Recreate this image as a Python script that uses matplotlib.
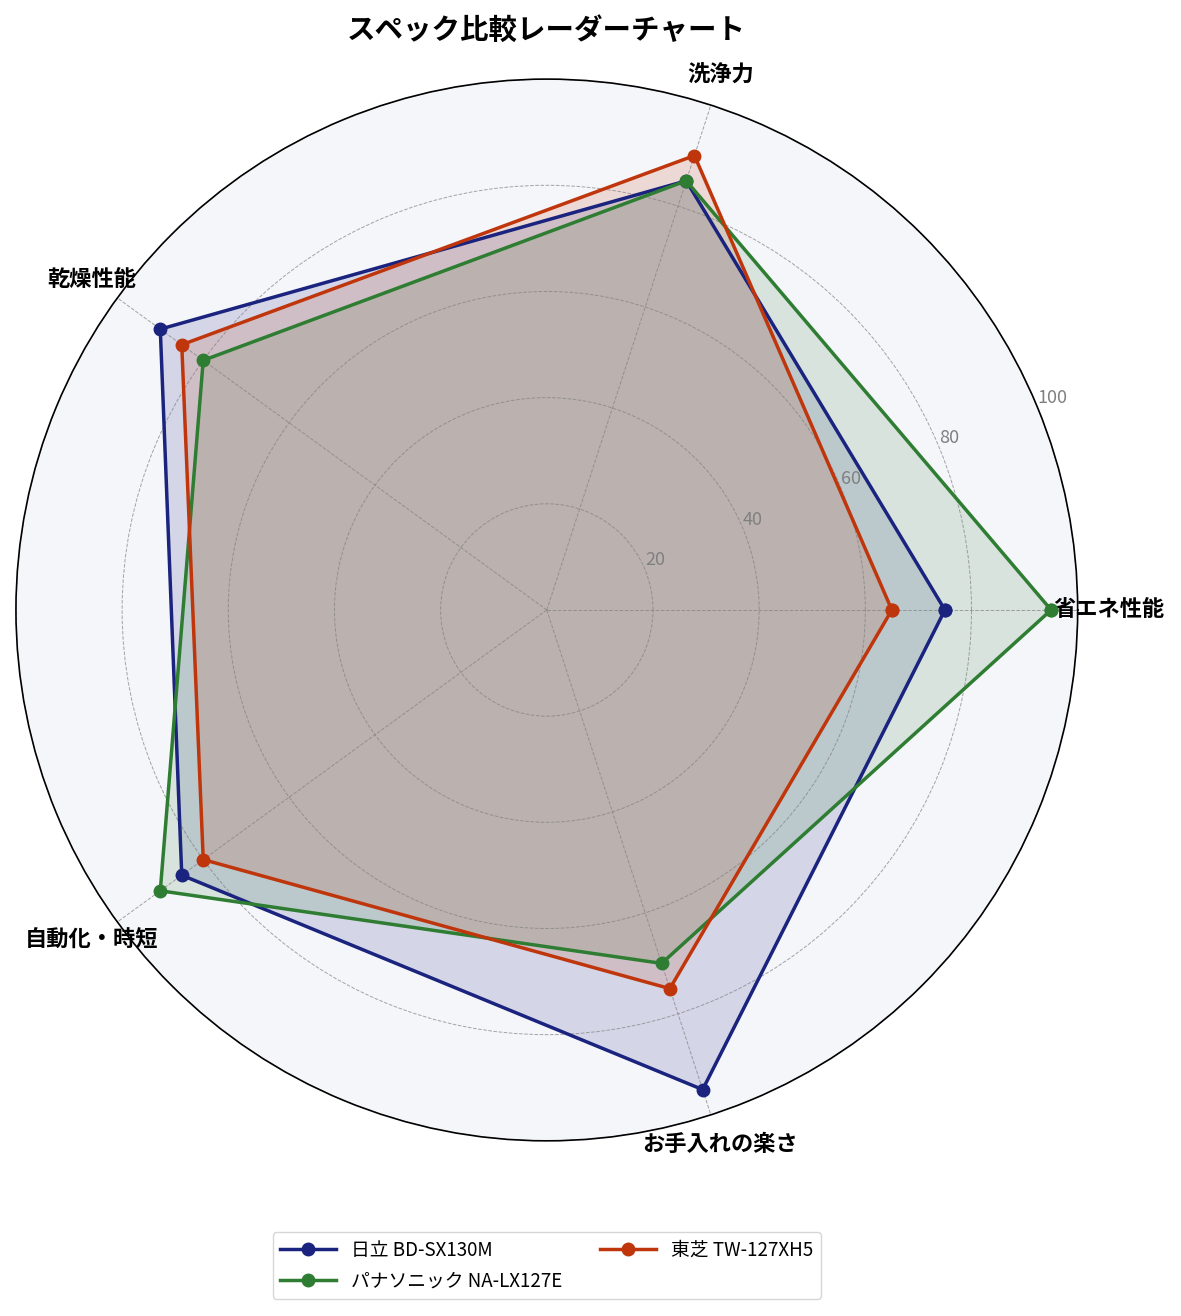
import matplotlib.pyplot as plt
import numpy as np

plt.rcParams['font.family'] = ['Noto Sans CJK JP', 'DejaVu Sans']

# データ
categories = ['省エネ性能', '洗浄力', '乾燥性能', '自動化・時短', 'お手入れの楽さ']
hitachi = [75, 85, 90, 85, 95]
panasonic = [95, 85, 80, 90, 70]
toshiba = [65, 90, 85, 80, 75]

series_names = ['日立 BD-SX130M', 'パナソニック NA-LX127E', '東芝 TW-127XH5']
series_values = [hitachi, panasonic, toshiba]
colors = ['#1a237e', '#2e7d32', '#bf360c']

angles = np.linspace(0, 2 * np.pi, len(categories), endpoint=False)
angles_closed = np.concatenate([angles, angles[:1]])

fig = plt.figure(figsize=(11.81, 13.16), dpi=100)
ax = fig.add_axes([0.0135, 0.133, 0.899, 0.807], projection='polar')
ax.set_facecolor('#f5f6fa')

for name, vals, c in zip(series_names, series_values, colors):
    v = np.concatenate([vals, vals[:1]])
    ax.plot(angles_closed, v, color=c, linewidth=2.5, marker='o', markersize=9, label=name)
    ax.fill(angles_closed, v, color=c, alpha=0.15)

ax.set_ylim(0, 100)
ax.set_yticks([20, 40, 60, 80, 100])
ax.set_yticklabels(['20', '40', '60', '80', '100'], color='gray', fontsize=13)
ax.set_rlabel_position(22.5)
ax.set_xticks(angles)
ax.set_xticklabels(categories, fontsize=16, fontweight='bold')
ax.tick_params(axis='x', pad=12)
ax.grid(color='gray', linestyle='--', linewidth=0.7, alpha=0.7)
ax.spines['polar'].set_color('black')
ax.spines['polar'].set_linewidth(1.2)

fig.suptitle('スペック比較レーダーチャート', x=0.463, fontsize=20.5, fontweight='bold', y=0.987)

fig.legend(loc='lower center', bbox_to_anchor=(0.463, 0.006), ncol=2, fontsize=13.5,
           frameon=True, columnspacing=2.0, handlelength=3)

plt.savefig('out.png', dpi=100)
